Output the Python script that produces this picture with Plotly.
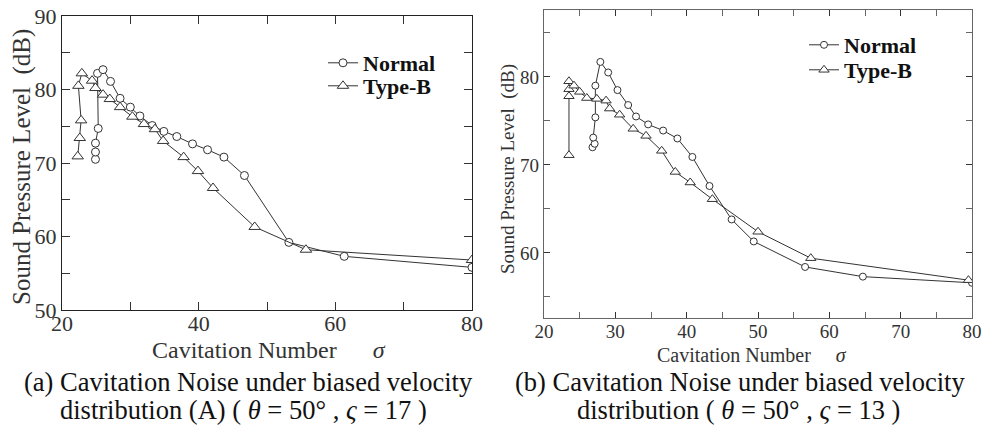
"""Cavitation noise: Normal vs Type-B, two panels"""

import plotly.graph_objects as go

# ---- panel (a) ----
a_normal_sigma = [24.9, 24.9, 24.9, 25.3, 25.2, 26.0, 27.1, 28.5, 30.0, 31.4, 33.2,
                  34.9, 36.8, 39.1, 41.3, 43.7, 46.7, 53.2, 61.3, 80.0]
a_normal_spl = [70.5, 71.5, 72.7, 74.7, 82.2, 82.7, 81.1, 78.8, 77.6, 76.4, 75.1,
                74.3, 73.6, 72.6, 71.8, 70.8, 68.3, 59.2, 57.3, 55.8]
a_typeb_sigma = [22.3, 22.6, 22.8, 22.4, 22.9, 24.4, 24.9, 26.0, 27.0, 28.5, 30.3,
                 32.0, 33.6, 34.8, 37.8, 39.9, 42.1, 48.2, 55.7, 80.0]
a_typeb_spl = [70.9, 73.4, 75.8, 80.5, 82.2, 81.2, 80.2, 79.3, 78.7, 77.6, 76.3,
               75.3, 74.6, 73.0, 70.8, 68.9, 66.6, 61.3, 58.2, 56.8]

# ---- panel (b) ----
b_normal_sigma = [26.8, 27.1, 26.9, 27.2, 27.2, 27.9, 29.0, 30.3, 31.8, 32.9, 34.6,
                  36.7, 38.7, 40.8, 43.2, 46.3, 49.4, 56.6, 64.7, 80.0]
b_normal_spl = [72.0, 72.4, 73.1, 75.4, 79.0, 81.7, 80.5, 78.5, 76.8, 75.5, 74.6,
                73.9, 73.0, 70.9, 67.6, 63.8, 61.3, 58.4, 57.3, 56.6]
b_typeb_sigma = [23.5, 23.5, 23.5, 23.5, 24.2, 25.0, 26.0, 27.4, 28.7, 29.2, 30.6,
                 32.5, 34.3, 36.5, 38.4, 40.5, 43.6, 50.0, 57.4, 79.5]
b_typeb_spl = [71.1, 77.8, 78.6, 79.5, 79.0, 78.3, 77.6, 77.5, 77.3, 76.4, 75.7,
               74.1, 73.3, 71.6, 69.2, 68.0, 66.1, 62.4, 59.4, 56.9]

W, H = 986, 429
SERIF = "Liberation Serif"
LINE = "#333333"


def px_x(p):
    return p / W


def px_y(p):
    return 1 - p / H


fig = go.Figure()


def add_series(xs, ys, name, symbol, size, xa, ya, legend):
    fig.add_trace(go.Scatter(
        x=xs, y=ys, name=name, mode="lines+markers",
        line=dict(color=LINE, width=1),
        marker=dict(symbol=symbol, size=size, color="white",
                    line=dict(color=LINE, width=1)),
        xaxis=xa, yaxis=ya, legend=legend, showlegend=True,
    ))


# one legend per entry so each row can be placed like the original
add_series(a_normal_sigma, a_normal_spl, "Normal", "circle", 8, "x", "y", "legend")
add_series(a_typeb_sigma, a_typeb_spl, "Type-B", "triangle-up", 10, "x", "y", "legend2")
add_series(b_normal_sigma, b_normal_spl, "Normal", "circle", 7, "x2", "y2", "legend3")
add_series(b_typeb_sigma, b_typeb_spl, "Type-B", "triangle-up", 9, "x2", "y2", "legend4")

axis_common = dict(showgrid=False, zeroline=False, showline=True, mirror="ticks",
                   ticks="inside", tickcolor="#333", fixedrange=True, automargin=False)


def legend_at(x, y):
    return dict(x=px_x(x), y=px_y(y), xanchor="left", yanchor="middle",
                bgcolor="rgba(0,0,0,0)",
                font=dict(family=SERIF, size=22, color="#111", weight="bold"))


fig.update_layout(
    width=W, height=H,
    showlegend=True,
    margin=dict(l=0, r=0, t=0, b=0, pad=0),
    paper_bgcolor="white", plot_bgcolor="white",
    font=dict(family=SERIF, color="#222"),
    xaxis=dict(domain=[px_x(62), px_x(472)], range=[20, 80], anchor="y",
               tickvals=[20, 40, 60, 80], ticklen=8, linecolor="#222", linewidth=1,
               tickfont=dict(family=SERIF, size=22, color="#333"),
               ticklabelstandoff=-6,
               minor=dict(dtick=10, ticks="inside", ticklen=8, tickcolor="#333"),
               **axis_common),
    yaxis=dict(domain=[px_y(310), px_y(16)], range=[50, 90], anchor="x",
               tickvals=[50, 60, 70, 80, 90], ticklen=8, linecolor="#222", linewidth=1,
               tickfont=dict(family=SERIF, size=22, color="#333"),
               minor=dict(dtick=5, ticks="inside", ticklen=8, tickcolor="#333"),
               **axis_common),
    xaxis2=dict(domain=[px_x(544), px_x(972)], range=[20, 80], anchor="y2",
                tickvals=[20, 30, 40, 50, 60, 70, 80], ticklen=6, linecolor="#666",
                linewidth=1.3, tickfont=dict(family=SERIF, size=19, color="#333"),
                ticklabelstandoff=-4,
                minor=dict(dtick=5, ticks="inside", ticklen=6, tickcolor="#666"),
                **axis_common),
    yaxis2=dict(domain=[px_y(318), px_y(10)], range=[52.6, 87.6], anchor="x2",
                tickvals=[60, 70, 80], ticklen=6, linecolor="#666", linewidth=1.3,
                tickfont=dict(family=SERIF, size=19, color="#333"),
                minor=dict(dtick=5, ticks="inside", ticklen=6, tickcolor="#666"),
                **axis_common),
    legend=legend_at(323, 63),
    legend2=legend_at(323, 86),
    legend3=legend_at(804, 45),
    legend4=legend_at(804, 70),
)

nb = "\u00a0"
annotations = [
    # y-axis titles
    dict(x=px_x(22), y=px_y(167), text="Sound Pressure Level" + nb * 2 + "(dB)",
         textangle=-90, font=dict(size=25, color="#333")),
    dict(x=px_x(508), y=px_y(169), text="Sound Pressure Level" + nb * 2 + "(dB)",
         textangle=-90, font=dict(size=19, color="#333")),
    # x-axis titles
    dict(x=px_x(269), y=px_y(350), text="Cavitation Number" + nb * 6 + "<i>σ</i>",
         font=dict(size=24, color="#333")),
    dict(x=px_x(752), y=px_y(355), text="Cavitation Number" + nb * 5 + "<i>σ</i>",
         font=dict(size=20, color="#333")),
    # captions
    dict(x=px_x(248), y=px_y(382), text="(a) Cavitation Noise under biased velocity",
         font=dict(size=26.5, color="#111")),
    dict(x=px_x(243), y=px_y(410),
         text="distribution (A) ( <i>θ</i> = 50° , <i>ς</i> = 17 )",
         font=dict(size=26.5, color="#111")),
    dict(x=px_x(740), y=px_y(382), text="(b) Cavitation Noise under biased velocity",
         font=dict(size=26.5, color="#111")),
    dict(x=px_x(738), y=px_y(410),
         text="distribution ( <i>θ</i> = 50° , <i>ς</i> = 13 )",
         font=dict(size=26.5, color="#111")),
]
for a in annotations:
    a.update(xref="paper", yref="paper", showarrow=False,
             xanchor="center", yanchor="middle", font_family=SERIF)
fig.update_layout(annotations=annotations)

# the page body keeps its default 8px margin otherwise, which shifts the chart
fig.write_html("out.html", config={"displayModeBar": False},
               post_script="document.body.style.margin='0';")
